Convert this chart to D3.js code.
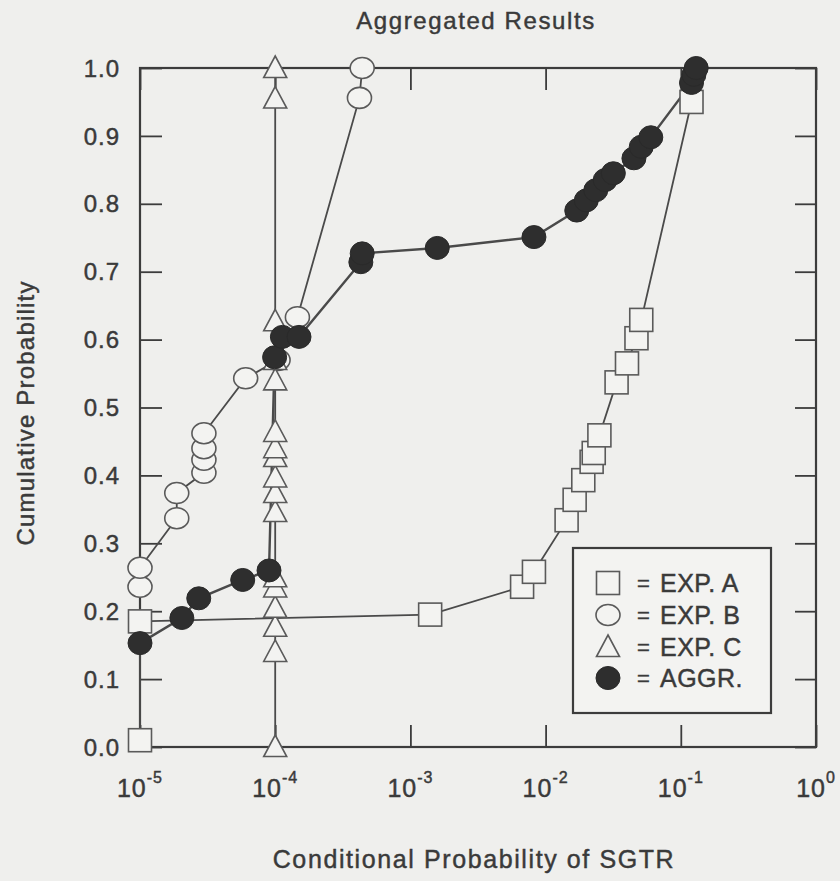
<!DOCTYPE html>
<html>
<head>
<meta charset="utf-8">
<script src="https://cdn.jsdelivr.net/npm/d3@7"></script>
<style>
  html, body { margin: 0; padding: 0; background: #efefed; }
  svg { display: block; }
  text { font-family: "Liberation Sans", Arial, Helvetica, sans-serif; fill: #3a3a3a; stroke: #3a3a3a; stroke-width: 0.45px; }
</style>
</head>
<body>
<svg id="chart" width="840" height="881"></svg>
<script>
// ---------- data ----------
const seriesNames = ["EXP. A", "EXP. B", "EXP. C", "AGGR."];

const expA_x = [1e-5, 1e-5, 1.4e-3, 6.7e-3, 8.2e-3, 0.0143, 0.0164, 0.019, 0.0219, 0.0227, 0.025, 0.0335, 0.040, 0.047, 0.051, 0.12];
const expA_y = [0.01, 0.185, 0.195, 0.236, 0.258, 0.334, 0.364, 0.393, 0.42, 0.433, 0.459, 0.537, 0.565, 0.602, 0.629, 0.95];

const expB_x = [1e-5, 1e-5, 1.87e-5, 1.87e-5, 2.97e-5, 2.97e-5, 2.97e-5, 2.97e-5, 6.05e-5, 1.05e-4, 1.46e-4, 4.2e-4, 4.4e-4];
const expB_y = [0.236, 0.264, 0.337, 0.374, 0.404, 0.423, 0.44, 0.462, 0.543, 0.57, 0.633, 0.956, 1.0];

const expC_x = [1e-4, 1e-4, 1e-4, 1e-4, 1e-4, 1e-4, 1e-4, 1e-4, 1e-4, 1e-4, 1e-4, 1e-4, 1e-4, 1e-4, 1e-4, 1e-4, 1e-4];
const expC_y = [0.0, 0.14, 0.177, 0.205, 0.235, 0.25, 0.346, 0.374, 0.397, 0.427, 0.44, 0.464, 0.54, 0.57, 0.627, 0.955, 1.0];

const aggr_x = [1e-5, 2.04e-5, 2.72e-5, 5.75e-5, 9.0e-5, 9.9e-5, 1.13e-4, 1.5e-4, 4.3e-4, 4.4e-4, 1.58e-3, 8.2e-3, 0.017, 0.02, 0.0235, 0.0276, 0.0317, 0.045, 0.051, 0.06, 0.12, 0.125, 0.13];
const aggr_y = [0.153, 0.19, 0.219, 0.246, 0.26, 0.574, 0.604, 0.604, 0.714, 0.727, 0.735, 0.751, 0.79, 0.805, 0.82, 0.835, 0.845, 0.867, 0.884, 0.898, 0.978, 0.99, 1.0];

const xTickExponents = [-5, -4, -3, -2, -1, 0];
const yTickValues = [0, 0.1, 0.2, 0.3, 0.4, 0.5, 0.6, 0.7, 0.8, 0.9, 1.0];
const yTickLabels = ["0.0", "0.1", "0.2", "0.3", "0.4", "0.5", "0.6", "0.7", "0.8", "0.9", "1.0"];

const titleText = "Aggregated Results";
const xLabelText = "Conditional Probability of SGTR";
const yLabelText = "Cumulative Probability";

// ---------- layout ----------
const svg = d3.select("#chart");
const L = 140, R = 816, T = 68, B = 747;
const ink = "#3c3c3c";
const paper = "#f3f3f1";

const x = d3.scaleLog().domain([1e-5, 1]).range([L, R]);
const y = d3.scaleLinear().domain([0, 1]).range([B, T]);

// frame
svg.append("rect").attr("x", L).attr("y", T).attr("width", R - L).attr("height", B - T)
  .attr("fill", "none").attr("stroke", ink).attr("stroke-width", 2.2);

const xTickVals = xTickExponents.map(e => Math.pow(10, e));

const gxB = svg.append("g").attr("transform", `translate(0,${B})`)
  .call(d3.axisBottom(x).tickValues(xTickVals).tickSize(-22).tickFormat(""));
const gxT = svg.append("g").attr("transform", `translate(0,${T})`)
  .call(d3.axisTop(x).tickValues(xTickVals).tickSize(-22).tickFormat(""));
const gyL = svg.append("g").attr("transform", `translate(${L},0)`)
  .call(d3.axisLeft(y).tickValues(yTickValues).tickSize(-22).tickFormat(""));
const gyR = svg.append("g").attr("transform", `translate(${R},0)`)
  .call(d3.axisRight(y).tickValues(yTickValues).tickSize(-21).tickFormat(""));

[gxB, gxT, gyL, gyR].forEach(g => {
  g.select(".domain").remove();
  g.selectAll(".tick line").attr("stroke", ink).attr("stroke-width", 1.8);
});

// y tick labels
svg.append("g").selectAll("text").data(yTickValues).join("text")
  .attr("x", 120).attr("y", d => y(d)).attr("dy", "0.36em")
  .attr("text-anchor", "end").attr("font-size", 24).attr("letter-spacing", 1)
  .text((d, i) => yTickLabels[i]);

// x tick labels: 10^e
const xl = svg.append("g").selectAll("text").data(xTickExponents).join("text")
  .attr("x", e => x(Math.pow(10, e))).attr("y", 797)
  .attr("text-anchor", "middle").attr("font-size", 25).attr("letter-spacing", 1);
xl.append("tspan").text("10");
xl.append("tspan").attr("dy", -14).attr("font-size", 16).text(e => (e < 0 ? "-" : "") + Math.abs(e));

// titles
svg.append("text").attr("x", 476).attr("y", 29).attr("text-anchor", "middle")
  .attr("font-size", 24).attr("letter-spacing", 1.6).text(titleText);
svg.append("text").attr("x", 474).attr("y", 868).attr("text-anchor", "middle")
  .attr("font-size", 25).attr("letter-spacing", 1.6).text(xLabelText);
svg.append("text").attr("transform", "translate(34,413) rotate(-90)").attr("text-anchor", "middle")
  .attr("font-size", 24).attr("letter-spacing", 1.2).text(yLabelText);

// ---------- series ----------
const zip = (xs, ys) => xs.map((v, i) => ({ x: v, y: ys[i] }));
const series = [
  { name: seriesNames[0], pts: zip(expA_x, expA_y), shape: "square" },
  { name: seriesNames[1], pts: zip(expB_x, expB_y), shape: "circle" },
  { name: seriesNames[2], pts: zip(expC_x, expC_y), shape: "triangle" },
  { name: seriesNames[3], pts: zip(aggr_x, aggr_y), shape: "filled" }
];

const line = d3.line().x(d => x(d.x)).y(d => y(d.y));
series.forEach(s => {
  svg.append("path").datum(s.pts).attr("d", line)
    .attr("fill", "none").attr("stroke", "#4a4a4a").attr("stroke-width", s.shape === "filled" ? 2.4 : 1.8);
});

function drawMarker(g, shape, cx, cy) {
  if (shape === "square") {
    g.append("rect").attr("x", cx - 11.5).attr("y", cy - 11.5).attr("width", 23).attr("height", 23)
      .attr("fill", paper).attr("stroke", "#5a5a5a").attr("stroke-width", 1.6);
  } else if (shape === "circle") {
    g.append("ellipse").attr("cx", cx).attr("cy", cy).attr("rx", 12).attr("ry", 10.5)
      .attr("fill", paper).attr("stroke", "#5a5a5a").attr("stroke-width", 1.6);
  } else if (shape === "triangle") {
    g.append("path").attr("d", `M${cx},${cy - 12} L${cx + 11.5},${cy + 9.5} L${cx - 11.5},${cy + 9.5} Z`)
      .attr("fill", paper).attr("stroke", "#5a5a5a").attr("stroke-width", 1.6);
  } else {
    g.append("ellipse").attr("cx", cx).attr("cy", cy).attr("rx", 12).attr("ry", 11.5)
      .attr("fill", "#2e2e2e").attr("stroke", "#2a2a2a").attr("stroke-width", 1);
  }
}

series.forEach(s => {
  const g = svg.append("g");
  s.pts.forEach(p => drawMarker(g, s.shape, x(p.x), y(p.y)));
});

// ---------- legend ----------
const lg = svg.append("g");
lg.append("rect").attr("x", 573).attr("y", 548).attr("width", 198).attr("height", 165)
  .attr("fill", paper).attr("stroke", ink).attr("stroke-width", 2.2);
const rowY = [583, 615, 647, 678];
series.forEach((s, i) => {
  drawMarker(lg, s.shape, 608, rowY[i]);
  lg.append("text").attr("x", 637).attr("y", rowY[i]).attr("dy", "0.36em")
    .attr("font-size", 22).text("=");
  lg.append("text").attr("x", 660).attr("y", rowY[i]).attr("dy", "0.36em")
    .attr("font-size", 25).attr("letter-spacing", 0.5).text(s.name);
});
</script>
</body>
</html>
